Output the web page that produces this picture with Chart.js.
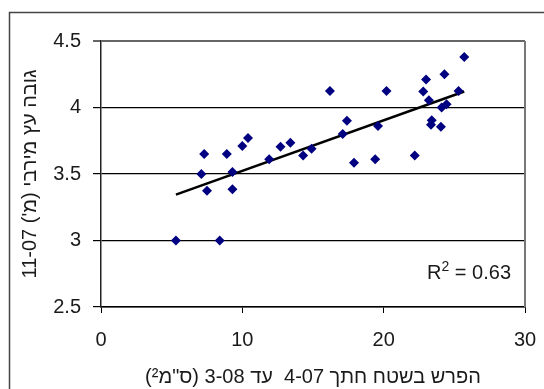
<!DOCTYPE html>
<html>
<head>
<meta charset="utf-8">
<script src="https://cdn.jsdelivr.net/npm/chart.js@4.4.0/dist/chart.umd.min.js"></script>
<style>
html,body{margin:0;padding:0;background:#fff;}
#wrap{width:544px;height:389px;position:relative;}
</style>
</head>
<body>
<div id="wrap"><canvas id="c" width="544" height="389"></canvas></div>
<script>
const xValues = [5.3, 8.4, 7.3, 7.1, 7.5, 8.9, 9.3, 9.3, 10.0, 10.4, 11.9, 12.7, 13.4, 14.3, 14.9, 16.2, 17.4, 17.1, 17.9, 19.4, 19.6, 20.2, 22.2, 22.8, 23.0, 23.2, 23.4, 23.35, 24.05, 24.1, 24.45, 24.3, 25.3, 25.7];
const yValues = [3.0, 3.0, 3.65, 3.5, 3.375, 3.65, 3.515, 3.385, 3.71, 3.77, 3.61, 3.705, 3.735, 3.64, 3.69, 4.125, 3.90, 3.80, 3.585, 3.61, 3.86, 4.125, 3.64, 4.12, 4.21, 4.055, 3.905, 3.87, 3.855, 4.0, 4.025, 4.25, 4.125, 4.38];
const trendX = [5.3, 25.7];
const trendY = [3.345, 4.12];
const xTicks = [0, 10, 20, 30];
const yTicks = [2.5, 3, 3.5, 4, 4.5];
const rSquaredValue = '0.63';
const xTitle = 'הפרש בשטח חתך 4-07  עד 3-08 (ס"מ²)';
const yTitle = 'גובה עץ מירבי (מ\') 11-07';

const FONT = 'Liberation Sans, Arial, sans-serif';
const TEXT = '#1a1a1a';

const extras = {
  id: 'extras',
  beforeDraw(chart) {
    const ctx = chart.ctx;
    ctx.save();
    ctx.fillStyle = '#fff';
    ctx.fillRect(0, 0, chart.width, chart.height);
    ctx.strokeStyle = '#444';
    ctx.lineWidth = 1.5;
    ctx.strokeRect(9.5, 12.5, 700, 700);
    ctx.restore();
  },
  afterDraw(chart) {
    const ctx = chart.ctx;
    const a = chart.chartArea;
    ctx.save();
    ctx.strokeStyle = '#777';
    ctx.lineWidth = 2;
    ctx.beginPath();
    ctx.moveTo(a.right, a.top);
    ctx.lineTo(a.right, a.bottom);
    ctx.stroke();
    ctx.fillStyle = TEXT;
    ctx.textBaseline = 'alphabetic';
    ctx.textAlign = 'left';
    const y0 = a.bottom - 28;
    const rest = ' = ' + rSquaredValue;
    ctx.font = '20px ' + FONT;
    const w1 = ctx.measureText('R').width;
    const w3 = ctx.measureText(rest).width;
    ctx.font = '14px ' + FONT;
    const w2 = ctx.measureText('2').width;
    const x0 = a.right - 14 - (w1 + w2 + w3);
    ctx.font = '20px ' + FONT;
    ctx.fillText('R', x0, y0);
    ctx.font = '14px ' + FONT;
    ctx.fillText('2', x0 + w1, y0 - 8);
    ctx.font = '20px ' + FONT;
    ctx.fillText(rest, x0 + w1 + w2, y0);
    ctx.restore();
  }
};

new Chart(document.getElementById('c'), {
  type: 'scatter',
  data: {
    datasets: [
      {
        label: 'points',
        data: xValues.map((x, i) => ({x: x, y: yValues[i]})),
        pointStyle: 'rectRot',
        pointRadius: 5,
        pointBackgroundColor: '#000080',
        pointBorderColor: '#000080',
        pointBorderWidth: 0,
        showLine: false
      },
      {
        label: 'trend',
        data: trendX.map((x, i) => ({x: x, y: trendY[i]})),
        showLine: true,
        borderColor: '#000',
        borderWidth: 2.5,
        pointRadius: 0,
        fill: false
      }
    ]
  },
  options: {
    responsive: false,
    animation: false,
    events: [],
    layout: {padding: {left: 0, top: 41, right: 19, bottom: 0}},
    plugins: {legend: {display: false}, tooltip: {enabled: false}},
    scales: {
      x: {
        type: 'linear',
        min: 0, max: 30,
        afterFit(s) { s.height = 82; s.paddingLeft = 0; s.paddingRight = 0; },
        afterBuildTicks(s) { s.ticks = xTicks.map(v => ({value: v})); },
        grid: {drawOnChartArea: false, drawTicks: true, tickLength: 6, color: '#000', lineWidth: 1},
        border: {display: true, color: '#000', width: 1.5},
        ticks: {color: TEXT, font: {family: FONT, size: 20}, padding: 15, maxRotation: 0, callback: (v) => String(v)},
        title: {display: true, text: xTitle, color: TEXT, font: {family: FONT, size: 20}, padding: {top: 2, bottom: 0}}
      },
      y: {
        type: 'linear',
        min: 2.5, max: 4.5,
        afterFit(s) { s.width = 101; s.paddingTop = 0; s.paddingBottom = 0; },
        afterBuildTicks(s) { s.ticks = yTicks.map(v => ({value: v})); },
        grid: {
          drawTicks: true, tickLength: 8,
          color: (c) => (c.tick && c.tick.value === 4.5) ? '#666' : '#000',
          lineWidth: (c) => (c.tick && c.tick.value === 4.5) ? 2 : 1.2
        },
        border: {display: true, color: '#222', width: 1.5},
        ticks: {color: TEXT, font: {family: FONT, size: 20}, padding: 12, callback: (v) => String(v)},
        title: {display: true, text: yTitle, color: TEXT, font: {family: FONT, size: 20}, padding: {top: 18, bottom: 0}}
      }
    }
  },
  plugins: [extras]
});
</script>
</body>
</html>
